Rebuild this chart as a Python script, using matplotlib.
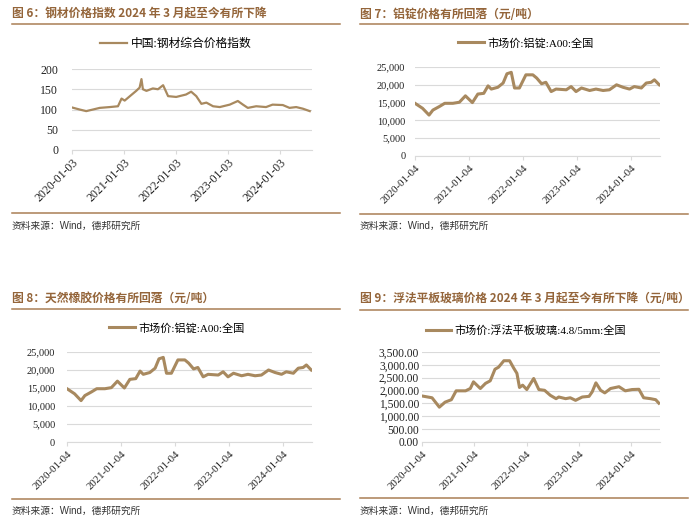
import matplotlib
matplotlib.use("Agg")
import matplotlib.pyplot as plt
import matplotlib.dates as mdates
from matplotlib.lines import Line2D
from matplotlib.font_manager import FontProperties
import pandas as pd

W, H = 700, 532

# ---- data ----
steel_dates = ["2020-01-03", "2020-02-25", "2020-04-12", "2020-05-30", "2020-07-16", "2020-09-24",
               "2020-11-21", "2020-12-16", "2021-01-07", "2021-02-13", "2021-03-29", "2021-04-22",
               "2021-05-05", "2021-05-15", "2021-06-09", "2021-07-24", "2021-08-29", "2021-10-04",
               "2021-11-08", "2022-01-04", "2022-03-14", "2022-04-19", "2022-05-25", "2022-06-30",
               "2022-08-04", "2022-09-20", "2022-11-06", "2023-01-15", "2023-03-13", "2023-04-18",
               "2023-05-22", "2023-07-20", "2023-09-27", "2023-11-12", "2024-01-23", "2024-03-10",
               "2024-04-26", "2024-06-12", "2024-07-30"]
steel_index = [105, 100, 96, 100, 104, 106,
               108, 127, 122, 133, 146, 154,
               175, 150, 146, 152, 150, 160,
               133, 131, 137, 144, 133, 114,
               117, 108, 106, 112, 121, 112,
               104, 108, 106, 112, 111, 104,
               106, 102, 96]

alu_dates = ["2020-01-04", "2020-02-24", "2020-04-08", "2020-05-04", "2020-06-17", "2020-07-23",
             "2020-09-16", "2020-10-30", "2020-12-10", "2021-01-26", "2021-03-04", "2021-04-13",
             "2021-05-12", "2021-06-03", "2021-07-17", "2021-08-22", "2021-09-17", "2021-10-16",
             "2021-11-07", "2021-12-10", "2022-01-23", "2022-03-11", "2022-04-06", "2022-05-09",
             "2022-06-07", "2022-07-13", "2022-08-15", "2022-10-23", "2022-11-25", "2022-12-28",
             "2023-02-03", "2023-03-30", "2023-05-12", "2023-06-29", "2023-08-11", "2023-09-28",
             "2023-11-11", "2023-12-25", "2024-01-26", "2024-03-14", "2024-04-16", "2024-05-19",
             "2024-06-10", "2024-07-13"]
alu_price = [14800, 13400, 11500, 12900, 13900, 14800,
             14800, 15100, 16900, 15000, 17400, 17600,
             19700, 18800, 19300, 20500, 23100, 23500,
             19100, 19100, 22800, 22800, 21900, 20300,
             20700, 18100, 18800, 18600, 19500, 18100,
             19100, 18400, 18800, 18400, 18600, 20000,
             19300, 18800, 19500, 19100, 20500, 20700,
             21400, 20000]

glass_dates = ["2020-01-04", "2020-03-14", "2020-05-04", "2020-06-13", "2020-07-27", "2020-08-29",
               "2020-11-03", "2020-12-06", "2020-12-28", "2021-02-14", "2021-03-22", "2021-04-24",
               "2021-05-27", "2021-06-21", "2021-07-28", "2021-09-06", "2021-10-05", "2021-10-27",
               "2021-11-14", "2021-12-06", "2022-01-04", "2022-02-21", "2022-03-29", "2022-05-08",
               "2022-06-17", "2022-07-27", "2022-08-15", "2022-10-02", "2022-11-03", "2022-12-10",
               "2023-01-26", "2023-03-14", "2023-04-05", "2023-05-01", "2023-06-03", "2023-07-02",
               "2023-08-11", "2023-10-09", "2023-11-22", "2024-01-08", "2024-02-25", "2024-03-29",
               "2024-05-16", "2024-06-21", "2024-07-13"]
glass_price = [1790, 1720, 1355, 1550, 1645, 1990,
               1990, 2080, 2340, 2080, 2280, 2380,
               2830, 2910, 3160, 3160, 2870, 2670,
               2120, 2210, 2040, 2470, 2040, 2010,
               1815, 1685, 1750, 1685, 1720, 1620,
               1750, 1775, 1950, 2300, 2010, 1910,
               2080, 2150, 1990, 2040, 2050, 1720,
               1685, 1645, 1510]

steel_ticks = ["2020-01-03", "2021-01-03", "2022-01-03", "2023-01-03", "2024-01-03"]
other_ticks = ["2020-01-04", "2021-01-04", "2022-01-04", "2023-01-04", "2024-01-04"]

titles = ["图 6：钢材价格指数 2024 年 3 月起至今有所下降",
          "图 7：铝锭价格有所回落（元/吨）",
          "图 8：天然橡胶价格有所回落（元/吨）",
          "图 9：浮法平板玻璃价格 2024 年 3 月起至今有所下降（元/吨）"]
steel_label = "中国:钢材综合价格指数"
alu_label = "市场价:铝锭:A00:全国"
glass_label = "市场价:浮法平板玻璃:4.8/5mm:全国"
source = "资料来源：Wind，德邦研究所"

# ---- style ----
LINE = "#A8895F"
BROWN = "#94653A"
RULE = "#A97E55"
GRID = "#DADADA"
SERIF = ["Liberation Serif", "Noto Sans CJK SC"]
CJK = ["Noto Sans CJK SC", "DejaVu Sans"]
plt.rcParams['font.family'] = CJK

fig = plt.figure(figsize=(W / 100, H / 100), dpi=100)


def px_axes(left, top, right, bottom):
    return fig.add_axes([left / W, 1 - bottom / H, (right - left) / W, (bottom - top) / H])


def hline(x0, x1, y):
    fig.add_artist(Line2D([x0 / W, x1 / W], [1 - y / H, 1 - y / H], transform=fig.transFigure,
                          color=RULE, lw=1.1))


def panel(box, dates, values, label, ticks, xend, yticks, yfmt, lw, ysize, xsize, ypad, leg_xy, leg_size):
    ax = px_axes(*box)
    ax.plot(pd.to_datetime(dates), values, color=LINE, lw=lw, label=label, solid_joinstyle='round')
    ax.set_xlim(pd.Timestamp(ticks[0]), pd.Timestamp(xend))
    ax.set_ylim(yticks[0], yticks[-1])
    ax.set_yticks(yticks)
    ax.set_yticklabels([yfmt.format(v) for v in yticks], family=SERIF, fontsize=ysize, color="#222222")
    ax.set_xticks(pd.to_datetime(ticks))
    ax.set_xticklabels(ticks, rotation=45, ha='right', va='top', rotation_mode='anchor',
                       family=SERIF, fontsize=xsize, color="#222222")
    ax.tick_params(axis='y', length=0, pad=ypad)
    ax.tick_params(axis='x', length=3, color=GRID, pad=2)
    ax.grid(axis='y', color=GRID, lw=0.8)
    ax.set_axisbelow(True)
    for s in ['top', 'right', 'left']:
        ax.spines[s].set_visible(False)
    ax.spines['bottom'].set_color(GRID)
    ax.set_facecolor('none')
    ax.legend(loc='center', bbox_to_anchor=(leg_xy[0] / W, 1 - leg_xy[1] / H),
              bbox_transform=fig.transFigure, frameon=False,
              prop=FontProperties(family=SERIF, size=leg_size),
              handlelength=2.3, handletextpad=0.3, borderpad=0)
    return ax


panel((72, 69, 312, 150), steel_dates, steel_index, steel_label, steel_ticks, "2024-08-15",
      [0, 50, 100, 150, 200], "{:.0f}", 1.6, 8.5, 8.5, 10, (176, 44), 8.5)
panel((415, 67, 660, 156), alu_dates, alu_price, alu_label, other_ticks, "2024-07-18",
      [0, 5000, 10000, 15000, 20000, 25000], "{:,.0f}", 2.2, 7.5, 7.8, 7, (526, 43), 8)
panel((67, 352, 312, 442), alu_dates, alu_price, alu_label, other_ticks, "2024-07-18",
      [0, 5000, 10000, 15000, 20000, 25000], "{:,.0f}", 2.2, 7.5, 7.8, 8.5, (177, 328), 8)
panel((422, 352, 660, 442), glass_dates, glass_price, glass_label, other_ticks, "2024-07-21",
      [0, 500, 1000, 1500, 2000, 2500, 3000, 3500], "{:,.2f}", 2.2, 8.3, 7.8, 2, (526, 330), 8)

# titles, rules and source lines
for (x0, x1), y_title, y_top, y_bot, y_src, t in [((12, 340), 14, 24, 213, 226, titles[0]),
                                                 ((360, 688), 14, 24, 214, 226, titles[1]),
                                                 ((12, 340), 298, 309, 499, 511, titles[2]),
                                                 ((360, 688), 298, 310, 498, 511, titles[3])]:
    fig.text(x0 / W, 1 - y_title / H, t, ha='left', va='center', fontsize=8.5,
             fontweight='bold', color=BROWN, family=CJK)
    hline(x0, x1, y_top)
    hline(x0, x1, y_bot)
    fig.text(x0 / W, 1 - y_src / H, source, ha='left', va='center', fontsize=7,
             color="#333333", family=["Liberation Sans", "Noto Sans CJK SC"])

fig.savefig("out.png", dpi=100, facecolor='white')
